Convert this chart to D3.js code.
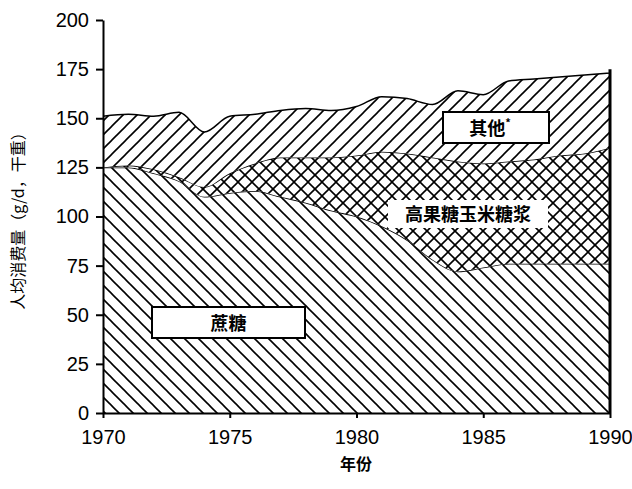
<!DOCTYPE html><html><head><meta charset="utf-8"><script src="https://cdn.jsdelivr.net/npm/d3@7"></script>
<style>body{margin:0;background:#fff}</style></head><body><svg id="c" width="632" height="489"></svg>
<script>
const years=[1970,1971,1972,1973,1974,1975,1976,1977,1978,1979,1980,1981,1982,1983,1984,1985,1986,1987,1988,1989,1990];
const sucrose=[125,125,122,118,110,112,113,110,107,103,100,95,88,78,72,74,76,76,76,76,76];
const hfcs=[0,1,2,2,5,10,14,20,23,27,31,38,44,52,56,53,52,53,55,56,59];
const other=[26,26,27,33,28,29,25,24,25,24,25,28,28,27,36,35,41,41,40,40,38];
const yTicks=[0,25,50,75,100,125,150,175,200];
const xTicks=[1970,1975,1980,1985,1990];
const svg=d3.select("#c");
const x=d3.scaleLinear().domain([1970,1990]).range([103,610]);
const y=d3.scaleLinear().domain([0,200]).range([413,20]);
const defs=svg.append("defs");
function pat(id,paths){const p=defs.append("pattern").attr("id",id).attr("patternUnits","userSpaceOnUse").attr("width",14).attr("height",14);
 paths.forEach(d=>p.append("path").attr("d",d).attr("stroke","#000").attr("stroke-width",1.6).attr("fill","none"));}
pat("back",["M-2,-2L16,16","M-2,12L2,16","M12,-2L16,2"]);
pat("fwd",["M-2,16L16,-2","M-2,2L2,-2","M12,16L16,12"]);
pat("cross",["M-2,-2L16,16","M-2,16L16,-2"]);
const data=years.map((yr,i)=>({yr,s:sucrose[i],h:hfcs[i],o:other[i]}));
const stack=d3.stack().keys(["s","h","o"])(data);
const fills=["url(#back)","url(#cross)","url(#fwd)"];
const area=d3.area().x(d=>x(d.data.yr)).y0(d=>y(d[0])).y1(d=>y(d[1])).curve(d3.curveMonotoneX);
const line=d3.line().x(d=>x(d.data.yr)).y(d=>y(d[1])).curve(d3.curveMonotoneX);
stack.forEach((s,i)=>{svg.append("path").attr("d",area(s)).attr("fill","#fff");svg.append("path").attr("d",area(s)).attr("fill",fills[i]);
 svg.append("path").attr("d",line(s)).attr("fill","none").attr("stroke","#000").attr("stroke-width",1.5);});
function box(x0,y0,w,h,t,fs){svg.append("rect").attr("x",x0).attr("y",y0).attr("width",w).attr("height",h).attr("fill","#fff").attr("stroke","#000").attr("stroke-width",2);
 svg.append("text").attr("x",x0+w/2).attr("y",y0+h/2+7).attr("text-anchor","middle").attr("font-family","Noto Sans CJK SC").attr("font-weight","bold").attr("font-size",fs).text(t);}
box(152,307,153,31,"蔗糖",18);
box(443,112,106,31,"",18);
svg.append("text").attr("x",490).attr("y",135).attr("text-anchor","middle").attr("font-family","Noto Sans CJK SC").attr("font-weight","bold").attr("font-size",18).text("其他").append("tspan").attr("dy",-8).attr("font-size",11).text("*");
svg.append("rect").attr("x",388).attr("y",200).attr("width",160).attr("height",28).attr("fill","#fff");
svg.append("text").attr("x",468).attr("y",221).attr("text-anchor","middle").attr("font-family","Noto Sans CJK SC").attr("font-weight","bold").attr("font-size",18).text("高果糖玉米糖浆");
const ya=svg.append("g").attr("transform","translate(103,0)").call(d3.axisLeft(y).tickValues(yTicks).tickSize(7).tickSizeOuter(0));
ya.selectAll("text").attr("font-family","Liberation Sans").attr("font-size",20).attr("fill","#000").attr("dx",-4);
const xa=svg.append("g").attr("transform","translate(0,413)").call(d3.axisBottom(x).tickValues(xTicks).tickFormat(d3.format("d")).tickSize(5).tickSizeOuter(0));
xa.selectAll("text").attr("font-family","Liberation Sans").attr("font-size",20).attr("fill","#000").attr("y",17);
svg.selectAll(".domain,.tick line").attr("stroke","#000").attr("stroke-width",2);
svg.append("line").attr("x1",x(1990)).attr("x2",x(1990)).attr("y1",y(0)).attr("y2",y(175)).attr("stroke","#000").attr("stroke-width",3);
svg.append("text").attr("x",356).attr("y",470).attr("text-anchor","middle").attr("font-family","Noto Sans CJK SC").attr("font-weight","bold").attr("font-size",16).text("年份");
svg.append("text").attr("transform","translate(24,217) rotate(-90)").attr("text-anchor","middle").attr("font-family","Noto Sans CJK SC").attr("font-size",16).text("人均消费量（g/d，干重）");
</script></body></html>
